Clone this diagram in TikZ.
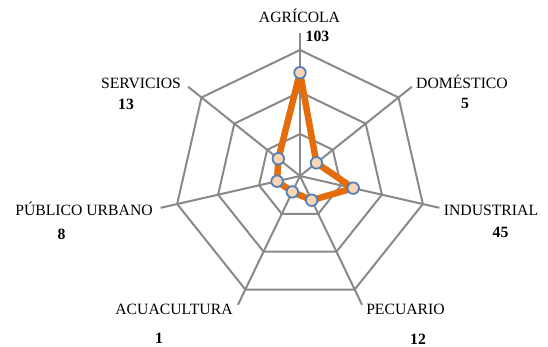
\documentclass[tikz,border=0pt]{standalone}
\usepackage{fontspec}
\setmainfont{Liberation Serif}
\definecolor{gridgray}{RGB}{137,137,137}
\definecolor{lineorange}{RGB}{228,108,10}
\definecolor{markfill}{RGB}{252,213,181}
\definecolor{markedge}{RGB}{79,129,189}
\tikzset{
  grid/.style={draw=gridgray,line width=2pt},
  series/.style={draw=lineorange,line width=6.5pt,line join=round},
  marker/.style={circle,fill=markfill,draw=markedge,line width=1.8pt,minimum size=11.5pt,inner sep=0pt},
  cat/.style={anchor=base,inner sep=0pt,font=\fontsize{15.7}{17}\selectfont},
  val/.style={anchor=base,inner sep=0pt,font=\fontsize{15.7}{17}\selectfont\bfseries},
}
\begin{document}
\begin{tikzpicture}[x=1pt,y=-1pt]
\useasboundingbox (0,0) rectangle (548,347);
\begin{scope}[shift={(300,176)}]
  % spokes
  \foreach \k in {0,...,6}{
    \coordinate (c) at (0,0);
    \coordinate (s\k) at ({143*cos(90-\k*360/7)},{-143*sin(90-\k*360/7)});
    \draw[grid] (c) -- (s\k);
  }
  % rings
  \foreach \r in {42,84,126}{
    \draw[grid,line join=miter] ({\r*cos(90)},{-\r*sin(90)})
      \foreach \k in {1,...,6}{ -- ({\r*cos(90-\k*360/7)},{-\r*sin(90-\k*360/7)}) } -- cycle;
  }
  % data
  \foreach \k/\v in {0/103,1/5,2/45,3/12,4/1,5/8,6/13}{
    \coordinate (p\k) at ({(\v+20)*0.84*cos(90-\k*360/7)},{-(\v+20)*0.84*sin(90-\k*360/7)});
  }
  \draw[series] (p0) -- (p1) -- (p2) -- (p3) -- (p4) -- (p5) -- (p6) -- cycle;
  \foreach \k in {0,...,6}{ \node[marker] (m\k) at (p\k) {}; }
\end{scope}
% labels
\node[cat] (l0) at (299.5,23) {AGRÍCOLA};
\node[val] (v0) at (317.5,42) {103};
\node[cat] (l1) at (462,89) {DOMÉSTICO};
\node[val] (v1) at (465,109) {5};
\node[cat] (l2) at (491,215) {INDUSTRIAL};
\node[val] (v2) at (500.5,237) {45};
\node[cat] (l3) at (405.5,314) {PECUARIO};
\node[val] (v3) at (418,344.5) {12};
\node[cat] (l4) at (174,314) {ACUACULTURA};
\node[val] (v4) at (159,343) {1};
\node[cat] (l5) at (84,215) {PÚBLICO URBANO};
\node[val] (v5) at (61.5,239) {8};
\node[cat] (l6) at (141,89) {SERVICIOS};
\node[val] (v6) at (126,110) {13};
\end{tikzpicture}
\end{document}
